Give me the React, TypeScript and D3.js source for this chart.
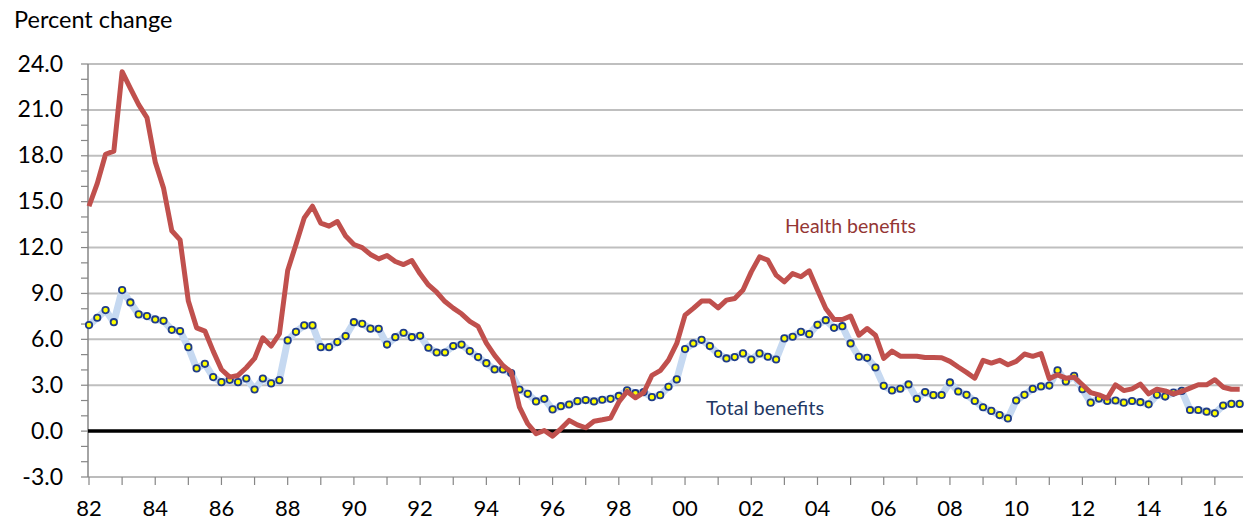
import * as d3 from 'd3';

// quarterly, 1982Q1 .. 2016Q4 (percent change, 12-month)
const health: number[] = [
  14.7, 16.2, 18.1, 18.3, 23.5, 22.4, 21.35, 20.5, 17.6, 15.9,
  13.1, 12.5, 8.5, 6.75, 6.54, 5.23, 4.03, 3.53, 3.64, 4.14,
  4.75, 6.1, 5.56, 6.36, 10.5, 12.2, 13.94, 14.7, 13.6, 13.4,
  13.7, 12.75, 12.2, 12.0, 11.55, 11.26, 11.48, 11.09, 10.89, 11.15,
  10.28, 9.56, 9.08, 8.47, 8.04, 7.67, 7.17, 6.84, 5.75, 4.95,
  4.29, 3.86, 1.57, 0.48, -0.17, 0.04, -0.33, 0.15, 0.7, 0.41,
  0.22, 0.65, 0.74, 0.85, 1.9, 2.59, 2.18, 2.51, 3.64, 3.95,
  4.64, 5.73, 7.58, 8.02, 8.5, 8.5, 8.06, 8.56, 8.67, 9.22,
  10.41, 11.39, 11.18, 10.2, 9.76, 10.3, 10.09, 10.48, 9.22, 8.02,
  7.3, 7.3, 7.52, 6.27, 6.71, 6.27, 4.75, 5.23, 4.9, 4.9,
  4.9, 4.81, 4.81, 4.8, 4.56, 4.19, 3.84, 3.46, 4.63, 4.45,
  4.63, 4.34, 4.56, 5.04, 4.89, 5.07, 3.42, 3.68, 3.46, 3.53,
  3.03, 2.52, 2.37, 2.15, 3.03, 2.65, 2.76, 3.07, 2.43, 2.74,
  2.63, 2.43, 2.59, 2.81, 3.03, 3.03, 3.36, 2.87, 2.74, 2.74,
];

const total: number[] = [
  6.93, 7.41, 7.91, 7.12, 9.22, 8.41, 7.63, 7.52, 7.3, 7.21,
  6.62, 6.54, 5.49, 4.1, 4.4, 3.53, 3.2, 3.35, 3.2, 3.44,
  2.72, 3.44, 3.12, 3.33, 5.93, 6.49, 6.91, 6.91, 5.49, 5.49,
  5.82, 6.21, 7.12, 7.02, 6.7, 6.69, 5.66, 6.14, 6.43, 6.14,
  6.23, 5.45, 5.14, 5.14, 5.56, 5.66, 5.23, 4.84, 4.44, 4.03,
  4.03, 3.8, 2.72, 2.44, 1.94, 2.11, 1.42, 1.63, 1.74, 1.96,
  2.03, 1.94, 2.05, 2.11, 2.3, 2.66, 2.48, 2.55, 2.22, 2.35,
  2.9, 3.38, 5.36, 5.73, 5.97, 5.56, 5.05, 4.75, 4.84, 5.08,
  4.68, 5.08, 4.86, 4.68, 6.06, 6.17, 6.49, 6.34, 6.95, 7.25,
  6.75, 6.86, 5.73, 4.86, 4.79, 4.16, 2.96, 2.66, 2.77, 3.05,
  2.11, 2.55, 2.35, 2.36, 3.18, 2.59, 2.37, 1.97, 1.56, 1.32,
  1.05, 0.83, 2.0, 2.37, 2.76, 2.92, 2.98, 3.97, 3.25, 3.62,
  2.74, 1.86, 2.13, 1.97, 2.0, 1.86, 1.97, 1.89, 1.75, 2.37,
  2.26, 2.52, 2.63, 1.38, 1.38, 1.27, 1.16, 1.67, 1.78, 1.78,
];

const yTicks = [-3, 0, 3, 6, 9, 12, 15, 18, 21, 24];
const xLabels = ['82', '84', '86', '88', '90', '92', '94', '96', '98', '00', '02', '04', '06', '08', '10', '12', '14', '16'];

const W = 1252;
const H = 525;
const font = 'Lato, "Open Sans", sans-serif';

export default function App() {
  const x = d3.scaleLinear().domain([0, 34.85]).range([89, 1243]);
  const y = d3.scaleLinear().domain([-3, 24]).range([477, 64]);

  const line = d3
    .line<number>()
    .x((_, i) => x(i / 4))
    .y((d) => y(d));

  const yearTicks = d3.range(0, 35);
  const minorY = d3.range(-3, 24.01, 1);

  return (
    <svg
      width={W}
      height={H}
      style={{ position: 'absolute', left: 0, top: 0, background: '#fff' }}
    >
      <text x={14} y={28} fontFamily={font} fontSize={23.5} fill="#000">
        Percent change
      </text>

      {/* gridlines */}
      {yTicks.filter((t) => t !== 0 && t !== -3).map((t) => (
        <line key={t} x1={88} x2={1243} y1={y(t)} y2={y(t)} stroke="#BFBFBF" strokeWidth={2} />
      ))}
      <line x1={88} x2={1243} y1={y(-3)} y2={y(-3)} stroke="#A6A6A6" strokeWidth={1.5} />

      {/* y axis */}
      <line x1={88} x2={88} y1={y(24)} y2={y(-3)} stroke="#868686" strokeWidth={1.5} />
      {minorY.map((t) => (
        <line key={t} x1={81} x2={88} y1={y(t)} y2={y(t)} stroke="#868686" strokeWidth={1.2} />
      ))}
      {yTicks.map((t) => (
        <text key={t} x={63} y={y(t) + 7.5} textAnchor="end" fontFamily={font} fontSize={23} fill="#000">
          {t.toFixed(1)}
        </text>
      ))}

      {/* x axis ticks */}
      {yearTicks.map((t) => (
        <line key={t} x1={x(t)} x2={x(t)} y1={477} y2={485} stroke="#868686" strokeWidth={1.2} />
      ))}
      {xLabels.map((l, i) => (
        <text key={l} x={x(i * 2)} y={516} textAnchor="middle" fontFamily={font} fontSize={22} fill="#000">
          {l}
        </text>
      ))}

      {/* zero line */}
      <line x1={88} x2={1243} y1={y(0)} y2={y(0)} stroke="#000" strokeWidth={3.5} />

      {/* total benefits */}
      <path d={line(total) || ''} fill="none" stroke="#C6D9F1" strokeWidth={7} strokeLinejoin="round" />
      {total.map((v, i) => (
        <circle key={i} cx={x(i / 4)} cy={y(v)} r={3.2} fill="#FFFF00" stroke="#1F3C88" strokeWidth={1.8} />
      ))}

      {/* health benefits */}
      <path d={line(health) || ''} fill="none" stroke="#C0504D" strokeWidth={5} strokeLinejoin="round" />

      <text x={785} y={233} fontFamily={font} fontSize={19.5} fill="#943634">
        Health benefits
      </text>
      <text x={706} y={415} fontFamily={font} fontSize={20} fill="#1F3864">
        Total benefits
      </text>
    </svg>
  );
}
